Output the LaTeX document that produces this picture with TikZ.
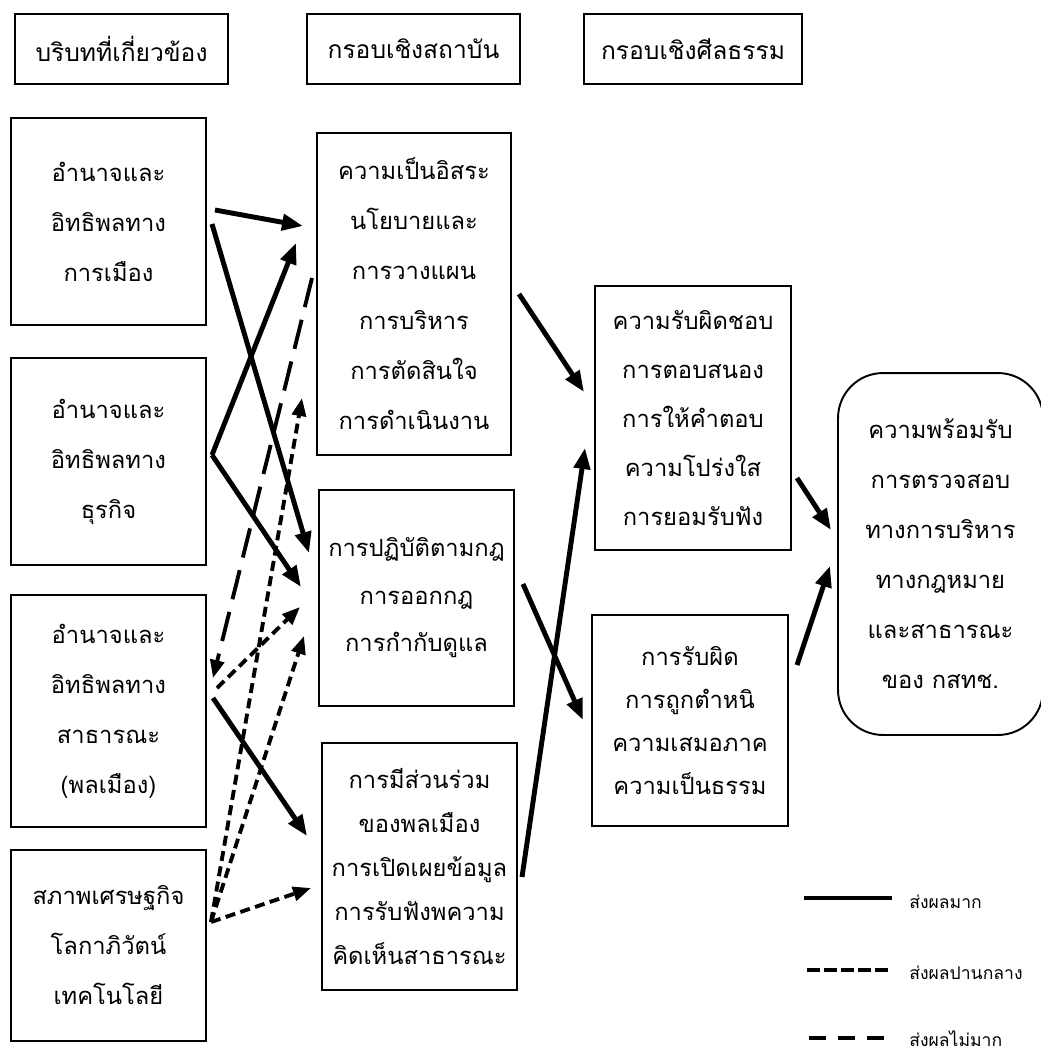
\documentclass[tikz,border=0pt]{standalone}
\usepackage{fontspec}
\newfontfamily\thai[Script=Thai]{Loma}
\usetikzlibrary{arrows.meta}
\begin{document}
\begin{tikzpicture}[x=0.02cm,y=-0.02cm,
  box/.style={draw,line width=1.1pt,inner sep=0pt,align=center},
  tx/.style={font={\thai\fontsize{13.5pt}{#1}\selectfont}},
  hx/.style={font={\thai\fontsize{14pt}{#1}\selectfont}},
  strong/.style={line width=2.8pt,-{Triangle[length=0.42cm,width=0.32cm]}},
  medium/.style={line width=2.2pt,dash pattern=on 0.2cm off 0.11cm,-{Triangle[length=0.36cm,width=0.28cm]}},
  weak/.style={line width=2.2pt,dash pattern=on 0.6cm off 0.26cm,-{Triangle[length=0.36cm,width=0.28cm]}},
  legtx/.style={anchor=west,inner sep=0pt,font={\thai\fontsize{10pt}{12pt}\selectfont}}
]
\useasboundingbox (0,0) rectangle (1041,1055);
\fill[white] (0,0) rectangle (1041,1055);

% headers
\node[box,hx=20pt,minimum width=4.26cm,minimum height=1.4cm] (H1) at (121.5,49) {บริบทที่เกี่ยวข้อง};
\node[box,hx=20pt,minimum width=4.26cm,minimum height=1.4cm] (H2) at (413.5,49) {กรอบเชิงสถาบัน};
\node[box,hx=20pt,minimum width=4.36cm,minimum height=1.4cm] (H3) at (693,49) {กรอบเชิงศีลธรรม};

% left column
\node[box,tx=1cm,minimum width=3.9cm,minimum height=4.14cm] (L1) at (108.5,221.5) {อำนาจและ\\อิทธิพลทาง\\การเมือง};
\node[box,tx=1cm,minimum width=3.9cm,minimum height=4.14cm] (L2) at (108.5,461.5) {อำนาจและ\\อิทธิพลทาง\\ธุรกิจ};
\node[box,tx=1cm,minimum width=3.9cm,minimum height=4.64cm] (L3) at (108.5,711) {อำนาจและ\\อิทธิพลทาง\\สาธารณะ\\(พลเมือง)};
\node[box,tx=1cm,minimum width=3.9cm,minimum height=3.82cm] (L4) at (108.5,945.5) {สภาพเศรษฐกิจ\\โลกาภิวัตน์\\เทคโนโลยี};

% middle column
\node[box,tx=1cm,minimum width=3.88cm,minimum height=6.44cm] (M1) at (414,294) {ความเป็นอิสระ\\นโยบายและ\\การวางแผน\\การบริหาร\\การตัดสินใจ\\การดำเนินงาน};
\node[box,tx=0.95cm,minimum width=3.9cm,minimum height=4.32cm] (M2) at (416.5,598) {การปฏิบัติตามกฎ\\การออกกฎ\\การกำกับดูแล};
\node[box,tx=0.88cm,minimum width=3.9cm,minimum height=4.94cm] (M3) at (419.5,866.5) {การมีส่วนร่วม\\ของพลเมือง\\การเปิดเผยข้อมูล\\การรับฟังพความ\\คิดเห็นสาธารณะ};

% right column
\node[box,tx=0.98cm,minimum width=3.92cm,minimum height=5.28cm] (R1) at (693,418) {ความรับผิดชอบ\\การตอบสนอง\\การให้คำตอบ\\ความโปร่งใส\\การยอมรับฟัง};
\node[box,tx=0.86cm,minimum width=3.92cm,minimum height=4.22cm] (R2) at (690,720.5) {การรับผิด\\การถูกตำหนิ\\ความเสมอภาค\\ความเป็นธรรม};
\node[box,tx=1cm,rounded corners=0.9cm,minimum width=4.1cm,minimum height=7.24cm] (RB) at (940.5,554) {ความพร้อมรับ\\การตรวจสอบ\\ทางการบริหาร\\ทางกฎหมาย\\และสาธารณะ\\ของ กสทช.};

% connector end points
\coordinate (a1s) at (215,210); \coordinate (a1e) at (303,226);
\coordinate (a2s) at (212,224); \coordinate (a2e) at (309,553);
\coordinate (a3s) at (212,455); \coordinate (a3e) at (296,243);
\coordinate (a4e) at (301,587);
\coordinate (a5s) at (213,698); \coordinate (a5e) at (307,836);
\coordinate (a6s) at (519,294); \coordinate (a6e) at (584,392);
\coordinate (a7s) at (523,584); \coordinate (a7e) at (583,720);
\coordinate (a8s) at (522,877); \coordinate (a8e) at (585,448);
\coordinate (a9s) at (797,478); \coordinate (a9e) at (831,530);
\coordinate (a10s) at (797,665); \coordinate (a10e) at (830,566);
\coordinate (b1s) at (312,278); \coordinate (b1e) at (213,678);
\coordinate (c1s) at (217,688); \coordinate (c1e) at (300,607);
\coordinate (c0s) at (211,922);
\coordinate (c2e) at (302,398);
\coordinate (c3e) at (304,636);
\coordinate (c4e) at (311,888);

% strong effect
\draw[strong] (a1s) -- (a1e);
\draw[strong] (a2s) -- (a2e);
\draw[strong] (a3s) -- (a3e);
\draw[strong] (a3s) -- (a4e);
\draw[strong] (a5s) -- (a5e);
\draw[strong] (a6s) -- (a6e);
\draw[strong] (a7s) -- (a7e);
\draw[strong] (a8s) -- (a8e);
\draw[strong] (a9s) -- (a9e);
\draw[strong] (a10s) -- (a10e);
% weak effect
\draw[weak] (b1s) -- (b1e);
% medium effect
\draw[medium] (c1s) -- (c1e);
\draw[medium] (c0s) -- (c2e);
\draw[medium] (c0s) -- (c3e);
\draw[medium] (c0s) -- (c4e);

% legend
\node[legtx] (g1) at (909,902) {ส่งผลมาก};
\node[legtx] (g2) at (909,973) {ส่งผลปานกลาง};
\node[legtx] (g3) at (909,1039) {ส่งผลไม่มาก};
\coordinate (g1a) at (804,898); \coordinate (g1b) at (892,898);
\coordinate (g2a) at (807,970); \coordinate (g2b) at (891,970);
\coordinate (g3a) at (809,1038); \coordinate (g3b) at (891,1038);
\draw[line width=2.4pt] (g1a) -- (g1b);
\draw[line width=2.1pt,dash pattern=on 0.26cm off 0.08cm] (g2a) -- (g2b);
\draw[line width=2.1pt,dash pattern=on 0.34cm off 0.24cm] (g3a) -- (g3b);
\end{tikzpicture}
\end{document}
